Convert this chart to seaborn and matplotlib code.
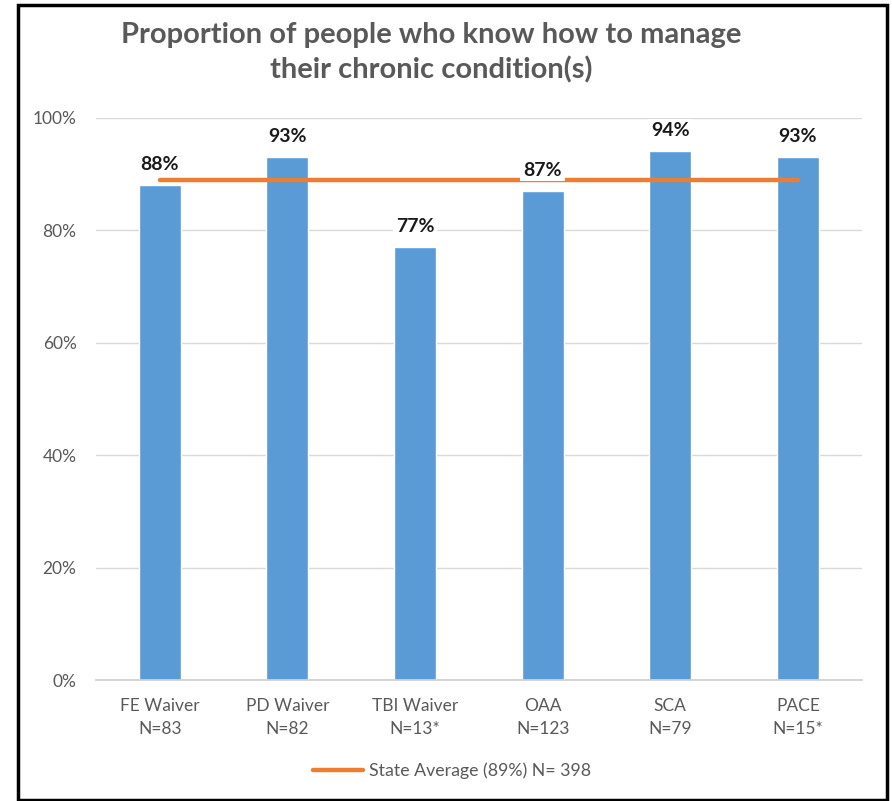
import matplotlib
matplotlib.use("Agg")
import matplotlib.pyplot as plt
import seaborn as sns
import pandas as pd
from matplotlib.patches import Rectangle

programs = ["FE Waiver", "PD Waiver", "TBI Waiver", "OAA", "SCA", "PACE"]
sample_sizes = ["N=83", "N=82", "N=13*", "N=123", "N=79", "N=15*"]
pct_know = [88, 93, 77, 87, 94, 93]
state_avg = 89
state_n = 398

labels = [f"{p}\n{n}" for p, n in zip(programs, sample_sizes)]
df = pd.DataFrame({"program": labels, "pct": [v / 100 for v in pct_know]})
avg_df = pd.DataFrame({"program": labels, "avg": [state_avg / 100] * len(labels)})

sns.set_theme(style="white")
plt.rcParams["font.family"] = ["Lato", "DejaVu Sans"]

BAR = "#5B9BD5"
LINE = "#ED7D31"
GREY = "#595959"

fig = plt.figure(figsize=(8.92, 8.01), dpi=100)
ax = fig.add_axes([0.1076, 0.151, 0.8584, 0.702])

sns.barplot(data=df, x="program", y="pct", color=BAR, width=0.33,
            saturation=1, ax=ax, zorder=2)
sns.lineplot(data=avg_df, x="program", y="avg", color=LINE, linewidth=3.2,
             ax=ax, zorder=3, label=f"State Average ({state_avg}%) N= {state_n}")

for i, v in enumerate(pct_know):
    ax.text(i, v / 100 + 0.037, f"{v}%", ha="center", va="center",
            fontsize=14, fontweight="bold", color="#1a1a1a", zorder=5,
            bbox=dict(boxstyle="square,pad=0.15", fc="white", ec="none"))

ax.set_ylim(0, 1)
ax.set_xlim(-0.5, len(labels) - 0.5)
ax.set_yticks([0, 0.2, 0.4, 0.6, 0.8, 1.0])
ax.set_yticklabels(["0%", "20%", "40%", "60%", "80%", "100%"])
ax.yaxis.grid(True, color="#d9d9d9", linewidth=1, zorder=0)
ax.set_axisbelow(True)
for s in ["left", "right", "top"]:
    ax.spines[s].set_visible(False)
ax.spines["bottom"].set_color("#d0d0d0")
ax.tick_params(axis="both", length=0, colors=GREY, labelsize=12.5)
ax.tick_params(axis="y", pad=14)
ax.tick_params(axis="x", pad=13)
for t in ax.get_xticklabels():
    t.set_linespacing(1.5)
ax.set_xlabel("")
ax.set_ylabel("")

leg = ax.legend(loc="upper center", bbox_to_anchor=(0.465, -0.118), frameon=False,
                fontsize=12.8, handlelength=2.8, handletextpad=0.3)
for t in leg.get_texts():
    t.set_color(GREY)

fig.text(0.483, 0.934, "Proportion of people who know how to manage\ntheir chronic condition(s)",
         ha="center", va="center", fontsize=21, fontweight="bold", color=GREY,
         linespacing=1.38)

fig.patches.append(Rectangle((18 / 892, 1 / 801), 869 / 892, 795 / 801,
                             transform=fig.transFigure, fill=False,
                             edgecolor="black", linewidth=2.5))

fig.savefig("out.png", dpi=100, facecolor="white")
